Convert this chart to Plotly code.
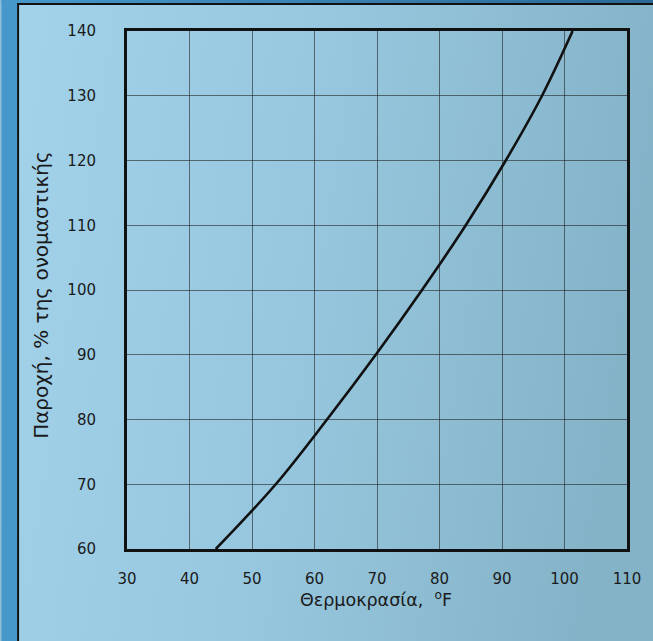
import base64
import plotly.graph_objects as go

# Data
flow_pct = [60, 70, 80, 90, 100, 110, 120, 130, 140]
temperature_f = [44.2, 53.8, 62.0, 69.8, 77.2, 84.2, 90.6, 96.4, 101.3]
x_ticks = [30, 40, 50, 60, 70, 80, 90, 100, 110]
y_ticks = [60, 70, 80, 90, 100, 110, 120, 130, 140]

W, H = 653, 641
L, R, T, B = 127, 21, 31, 92
pw, ph = W - L - R, H - T - B
EW, EH = W + 20, H + 20  # background image slightly oversized

svg = f'''<svg xmlns="http://www.w3.org/2000/svg" width="{EW}" height="{EH}" viewBox="0 0 {EW} {EH}" preserveAspectRatio="none">
<defs>
<linearGradient id="g" x1="0" y1="0" x2="1" y2="0.15">
<stop offset="0" stop-color="#a3d3eb"/>
<stop offset="0.5" stop-color="#97c7de"/>
<stop offset="1" stop-color="#84b3c8"/>
</linearGradient>
<linearGradient id="t" x1="0" y1="0" x2="1" y2="0">
<stop offset="0" stop-color="#4798cc"/>
<stop offset="1" stop-color="#2a6894"/>
</linearGradient>
</defs>
<rect x="0" y="0" width="{EW}" height="{EH}" fill="url(#g)"/>
<rect x="0" y="0" width="{EW}" height="4" fill="url(#t)"/>
<rect x="0" y="0" width="16" height="{EH}" fill="#4697ca"/>
<rect x="16" y="4" width="2" height="{EH}" fill="#111"/>
<rect x="16" y="3" width="{EW}" height="2" fill="#111"/>
</svg>'''
src = "data:image/svg+xml;base64," + base64.b64encode(svg.encode()).decode()

fig = go.Figure()
fig.add_trace(go.Scatter(
    x=temperature_f, y=flow_pct, mode="lines",
    line=dict(color="#111111", width=2.6, shape="spline", smoothing=1.0),
    hoverinfo="skip", showlegend=False, cliponaxis=True,
))

font_fam = "DejaVu Sans, Arial, sans-serif"
fig.update_layout(
    width=W, height=H,
    margin=dict(l=L, r=R, t=T, b=B),
    paper_bgcolor="#8fbfd6", plot_bgcolor="rgba(0,0,0,0)",
    showlegend=False,
    images=[dict(
        source=src, xref="paper", yref="paper",
        x=-L / pw, y=1 + T / ph, sizex=EW / pw, sizey=EH / ph,
        xanchor="left", yanchor="top", sizing="stretch", layer="below",
    )],
    xaxis=dict(
        range=[30, 110], tickvals=x_ticks, ticktext=[str(v) for v in x_ticks],
        showgrid=True, gridcolor="rgba(35,35,35,0.6)", gridwidth=1,
        showline=True, linecolor="#111", linewidth=3, mirror=True,
        zeroline=False, ticks="", ticklabelstandoff=14,
        tickfont=dict(family=font_fam, size=15, color="#1a1a1a"),
        fixedrange=True,
    ),
    yaxis=dict(
        range=[60, 140], tickvals=y_ticks, ticktext=[str(v) for v in y_ticks],
        showgrid=True, gridcolor="rgba(35,35,35,0.6)", gridwidth=1,
        showline=True, linecolor="#111", linewidth=3, mirror=True,
        zeroline=False, ticks="", ticklabelstandoff=25,
        tickfont=dict(family=font_fam, size=15, color="#1a1a1a"),
        fixedrange=True,
    ),
    annotations=[
        dict(text="Θερμοκρασία,  <sup>o</sup>F", xref="paper", yref="paper",
             x=(378 - L) / pw, y=1 - (599 - T) / ph, showarrow=False,
             xanchor="center", yanchor="middle",
             font=dict(family=font_fam, size=17.5, color="#1a1a1a")),
        dict(text="Παροχή, % της ονομαστικής", xref="paper", yref="paper",
             x=(40 - L) / pw, y=1 - (295 - T) / ph, showarrow=False,
             textangle=-90, xanchor="center", yanchor="middle",
             font=dict(family=font_fam, size=20, color="#1a1a1a")),
    ],
)

fig.write_html(
    "out.html",
    config={"displayModeBar": False},
    post_script="document.body.style.margin='0';document.body.style.overflow='hidden';document.body.style.background='#8fbfd6';",
)
